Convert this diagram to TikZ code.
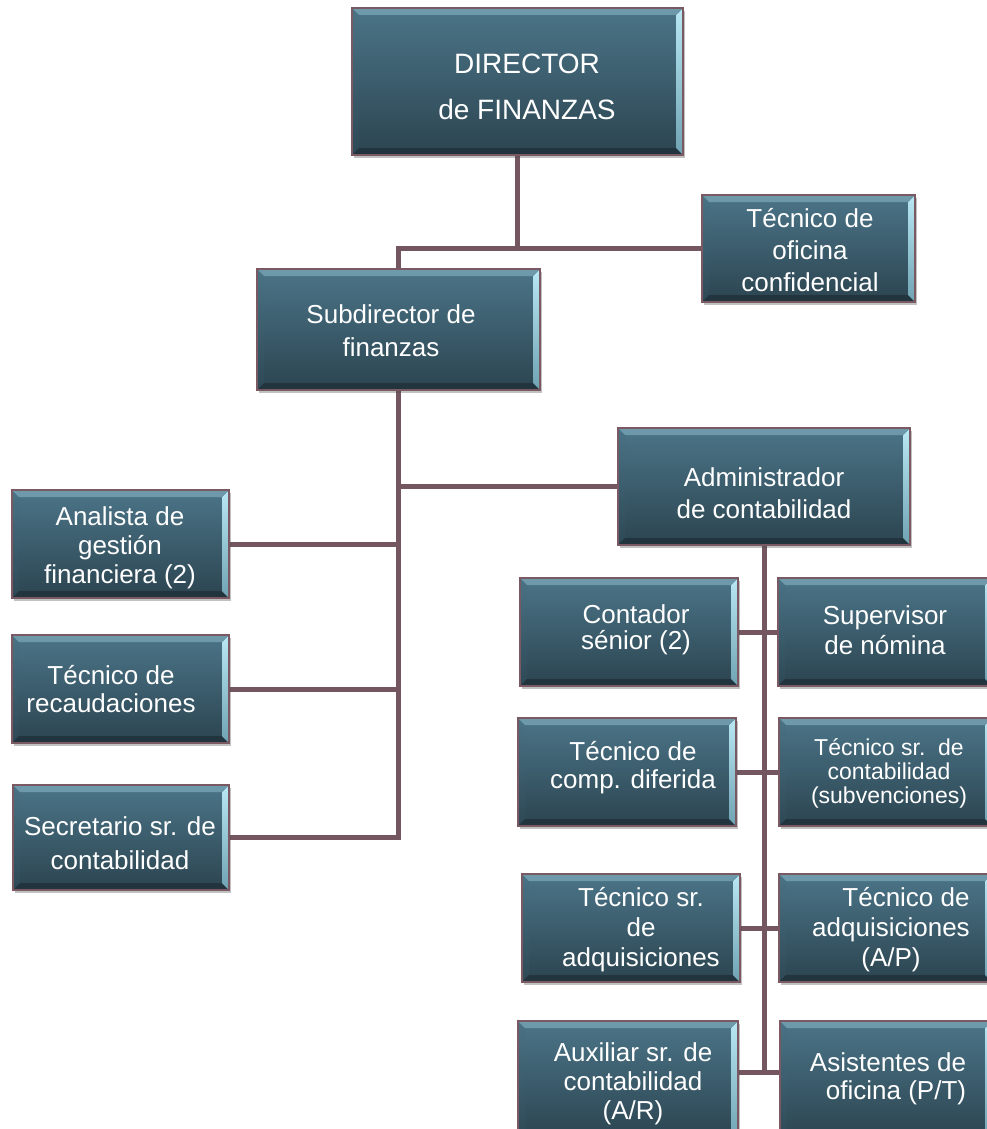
\documentclass[tikz,border=0pt]{standalone}
\usepackage{fontspec}
\setmainfont{Liberation Sans}
\usetikzlibrary{shadows,backgrounds}

% palette
\definecolor{facetop}{HTML}{4B7588}
\definecolor{facebot}{HTML}{2C4450}
\definecolor{bevtop}{HTML}{6D99AB}
\definecolor{bevrighttop}{HTML}{B9E8F4}
\definecolor{bevrightbot}{HTML}{6FA3B3}
\definecolor{bevlefttop}{HTML}{4A7385}
\definecolor{bevleftbot}{HTML}{2E4855}
\definecolor{bevbot}{HTML}{22343E}
\definecolor{boxedge}{HTML}{7A5962}
\definecolor{linkcol}{HTML}{735660}

\newcommand{\boxfont}[2]{\fontsize{#1}{#2}\selectfont}
\newcommand{\bevw}{7pt}

\tikzset{
  x=1pt, y=-1pt,
  bevelled/.style={
    path picture={
      \path (path picture bounding box.north west) coordinate (pa)
            (path picture bounding box.north east) coordinate (pb)
            (path picture bounding box.south east) coordinate (pc)
            (path picture bounding box.south west) coordinate (pd);
      \shade[top color=bevlefttop, bottom color=bevleftbot]
        (pa) -- ([shift={(\bevw,-\bevw)}]pa) -- ([shift={(\bevw,\bevw)}]pd) -- (pd) -- cycle;
      \fill[bevbot]
        (pd) -- ([shift={(\bevw,\bevw)}]pd) -- ([shift={(-\bevw,\bevw)}]pc) -- (pc) -- cycle;
      \shade[top color=bevrighttop, bottom color=bevrightbot]
        (pb) -- (pc) -- ([shift={(-\bevw,\bevw)}]pc) -- ([shift={(-\bevw,-\bevw)}]pb) -- cycle;
      \fill[bevtop]
        (pa) -- (pb) -- ([shift={(-\bevw,-\bevw)}]pb) -- ([shift={(\bevw,-\bevw)}]pa) -- cycle;
    }},
  orgbox/.style={draw=boxedge, line width=1.3pt,
    top color=facetop, bottom color=facebot,
    inner sep=0pt, outer sep=0pt, anchor=north west,
    drop shadow={shadow xshift=2pt, shadow yshift=-3pt, opacity=.35, fill=black!70},
    bevelled},
  txt/.style={text=white, align=center, inner sep=0pt, font=\boxfont{26}{#1}},
  txt/.default=30,
  link/.style={draw=linkcol, line width=5pt}
}

% box from corner (x1,y1) to (x2,y2)
\newcommand{\orgnode}[5]{%
  \node[orgbox, minimum width={(#4-#2)*1pt}, minimum height={(#5-#3)*1pt}] (#1) at (#2,#3) {};}

\begin{document}
\begin{tikzpicture}
\useasboundingbox (0,0) rectangle (987,1129);
\clip (0,0) rectangle (987,1129);

% boxes
\orgnode{dir}{352}{8}{683}{155}
\orgnode{conf}{702}{195}{915}{302}
\orgnode{sub}{257}{269}{540}{390}
\orgnode{adm}{618}{428}{910}{545}
\orgnode{ana}{12}{490}{229}{598}
\orgnode{rec}{12}{635}{229}{743}
\orgnode{sec}{13}{785}{229}{890}
\orgnode{con}{520}{578}{738}{686}
\orgnode{sup}{778}{578}{992}{686}
\orgnode{dif}{518}{718}{736}{826}
\orgnode{sbv}{779}{718}{992}{826}
\orgnode{adqa}{522}{874}{740}{982}
\orgnode{adqb}{779}{874}{992}{982}
\orgnode{aux}{518}{1021}{738}{1140}
\orgnode{asi}{780}{1021}{992}{1140}

% labels
\node[txt, font=\boxfont{28}{46}] (dir-t) at (527,87) {DIRECTOR\\de FINANZAS};
\node[txt=32] (conf-t) at (810,250) {Técnico de\\oficina\\confidencial};
\node[txt=33] (sub-t) at (391,331) {Subdirector de\\finanzas};
\node[txt=32] (adm-t) at (764,493) {Administrador\\de contabilidad};
\node[txt=29] (ana-t) at (120,548) {Analista de\\gestión\\financiera (2)};
\node[txt=28] (rec-t) at (111,689) {Técnico de\\recaudaciones};
\node[txt=34] (sec-t) at (120,843) {Secretario sr. de\\contabilidad};
\node[txt=26] (con-t) at (636,630) {Contador\\sénior (2)};
\node[txt=30] (sup-t) at (885,630) {Supervisor\\de nómina};
\node[txt=28] (dif-t) at (633,768) {Técnico de\\comp. diferida};
\node[txt, font=\boxfont{23}{24}] (sbv-t) at (889,773) {Técnico sr.~~de\\contabilidad\\(subvenciones)};
\node[txt=30] (adqa-t) at (641,930) {Técnico sr.\\de\\adquisiciones};
\node[txt=30] (adqb-t) at (891,930) {\hspace*{30pt}Técnico de\\adquisiciones\\(A/P)};
\node[txt=29] (aux-t) at (633,1084) {Auxiliar sr. de\\contabilidad\\(A/R)};
\node[txt=28] (asi-t) at (888,1079) {Asistentes de\\\hspace*{16pt}oficina (P/T)};

% reporting lines
\begin{scope}[on background layer]
  \coordinate (aux-c) at ([yshift=-51pt]aux.north east);
  \coordinate (asi-c) at ([yshift=-51pt]asi.north west);
  \draw[link] (dir.south) -- (dir.south |- conf.west) -- (conf.west);
  \draw[link] (dir.south |- conf.west) -- (sub.north |- conf.west) -- (sub.north);
  \draw[link] (sub.south) -- (sub.south |- sec.east) -- (sec.east);
  \draw[link] (ana.east) -- (sub.south |- ana.east);
  \draw[link] (rec.east) -- (sub.south |- rec.east);
  \draw[link] (sub.south |- adm.west) -- (adm.west);
  \draw[link] (adm.south) -- (adm.south |- aux-c);
  \draw[link] (aux-c) -- (asi-c);
  \draw[link] (con.east) -- (sup.west);
  \draw[link] (dif.east) -- (sbv.west);
  \draw[link] (adqa.east) -- (adqb.west);
\end{scope}
\end{tikzpicture}
\end{document}
